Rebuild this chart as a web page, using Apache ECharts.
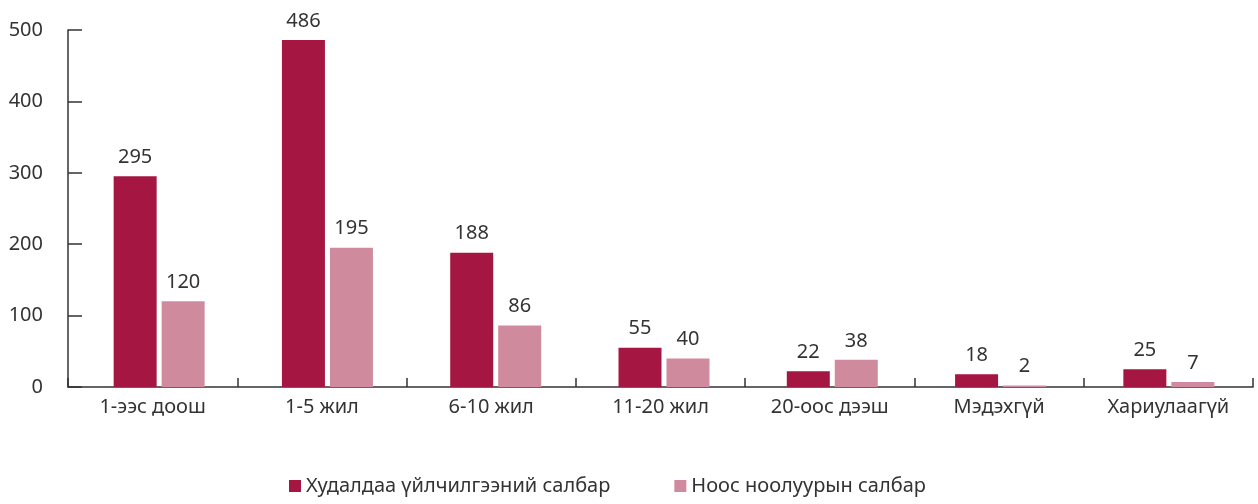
<!DOCTYPE html>
<html><head><meta charset="utf-8">
<script src="https://cdn.jsdelivr.net/npm/echarts@6/dist/echarts.min.js"></script>
<style>html,body{margin:0;padding:0;background:#fff}#c{width:1258px;height:504px}</style>
</head><body><div id="c"></div>
<script>
const categories = ['1-ээс доош','1-5 жил','6-10 жил','11-20 жил','20-оос дээш','Мэдэхгүй','Хариулаагүй'];
const seriesNames = ['Худалдаа үйлчилгээний салбар','Ноос ноолуурын салбар'];
const trade = [295,486,188,55,22,18,25];
const wool = [120,195,86,40,38,2,7];
const yTicks = [0,100,200,300,400,500];

const chart = echarts.init(document.getElementById('c'));
const font = '"Noto Sans", "Open Sans", sans-serif';
const labelStyle = {show:true, position:'top', distance:9, color:'#333', fontSize:20, fontFamily:font};
const yMin = yTicks[0], yMax = yTicks[yTicks.length-1];
chart.setOption({
  animation:false,
  textStyle:{fontFamily:font},
  grid:[
    {left:68, right:5, top:30, bottom:117},
    {left:75, right:5, top:30, bottom:117}
  ],
  legend:{
    bottom:3, left:284, itemWidth:12, itemHeight:12, itemGap:64, icon:'rect',
    textStyle:{fontSize:20, color:'#333', fontFamily:font},
    data:seriesNames
  },
  xAxis:[{
    type:'category', data:categories, gridIndex:0,
    axisLine:{lineStyle:{color:'#333', width:1.5}},
    axisTick:{show:true, inside:true, length:9, lineStyle:{color:'#333', width:1.5}},
    axisLabel:{fontSize:20, color:'#333', margin:10, fontFamily:font}
  },{
    type:'category', data:categories, gridIndex:1, show:false
  }],
  yAxis:[{
    type:'value', min:yMin, max:yMax, interval:100, gridIndex:0,
    splitLine:{show:false},
    axisLine:{show:true, lineStyle:{color:'#333', width:1.5}},
    axisTick:{show:true, inside:true, length:14, lineStyle:{color:'#333', width:1.5}},
    axisLabel:{fontSize:20, color:'#333', margin:25, fontFamily:font}
  },{
    type:'value', min:yMin, max:yMax, interval:100, gridIndex:1, show:false
  }],
  series:[
    {name:seriesNames[0], type:'bar', xAxisIndex:1, yAxisIndex:1, data:trade, barWidth:43, barGap:'11.6%', itemStyle:{color:'#A51742'}, label:labelStyle},
    {name:seriesNames[1], type:'bar', xAxisIndex:1, yAxisIndex:1, data:wool, barWidth:43, itemStyle:{color:'#D08A9E'}, label:labelStyle}
  ]
});
</script></body></html>
